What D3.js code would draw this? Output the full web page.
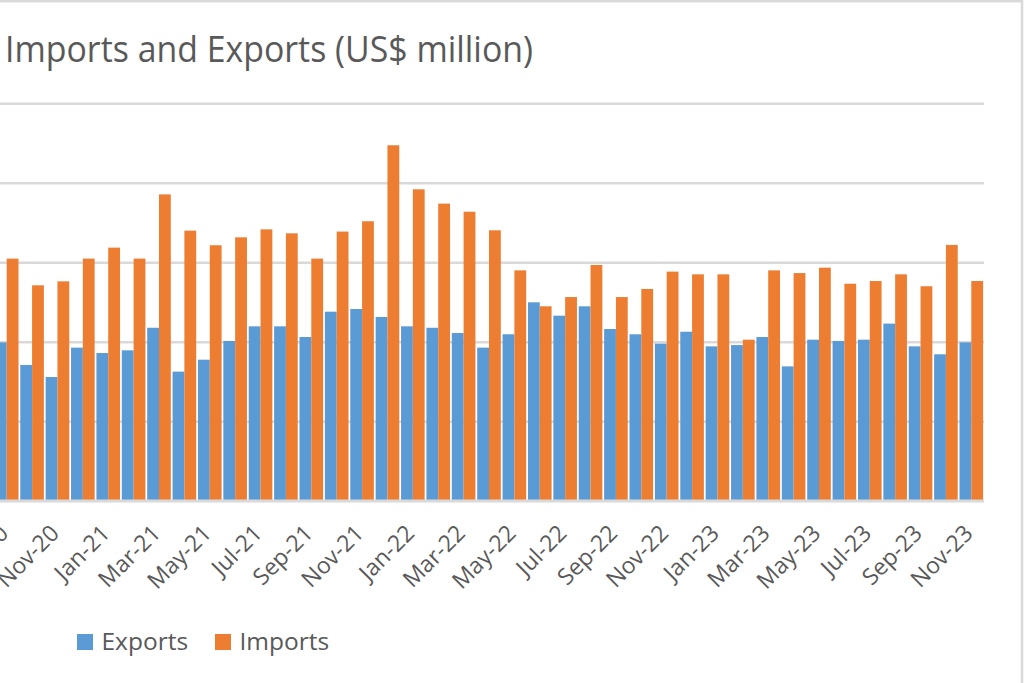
<!DOCTYPE html>
<html>
<head>
<meta charset="utf-8">
<script src="https://cdn.jsdelivr.net/npm/d3@7"></script>
<style>
  html, body { margin: 0; padding: 0; background: #fff; overflow: hidden; }
  svg { display: block; font-family: "Open Sans", sans-serif; }
</style>
</head>
<body>
<div class="chart"></div>
<script>
// monthly values, Sep-20 .. Nov-23 (US$ million)
const months = ["Sep-20", "Oct-20", "Nov-20", "Dec-20",
    "Jan-21", "Feb-21", "Mar-21", "Apr-21", "May-21", "Jun-21", "Jul-21", "Aug-21", "Sep-21", "Oct-21", "Nov-21", "Dec-21",
    "Jan-22", "Feb-22", "Mar-22", "Apr-22", "May-22", "Jun-22", "Jul-22", "Aug-22", "Sep-22", "Oct-22", "Nov-22", "Dec-22",
    "Jan-23", "Feb-23", "Mar-23", "Apr-23", "May-23", "Jun-23", "Jul-23", "Aug-23", "Sep-23", "Oct-23", "Nov-23"];

const exportsData = [996, 854, 778, 963,
    929, 946, 1088, 812, 887, 1005, 1097, 1097, 1030, 1189, 1206, 1156,
    1097, 1088, 1055, 963, 1047, 1248, 1164, 1223, 1080, 1047, 988, 1063,
    971, 979, 1030, 845, 1013, 1005, 1013, 1114, 971, 921, 996];

const importsData = [1523, 1355, 1380, 1523,
    1592, 1523, 1927, 1699, 1607, 1657, 1707, 1682, 1523, 1693, 1758, 2236,
    1959, 1869, 1818, 1701, 1449, 1223, 1281, 1483, 1281, 1332, 1441, 1424,
    1424, 1013, 1449, 1432, 1466, 1365, 1382, 1424, 1349, 1609, 1382];

const seriesNames = ["Exports", "Imports"];
const yTicks = [0, 500, 1000, 1500, 2000, 2500];

const colors = { Exports: "#5B9BD5", Imports: "#ED7D31" };
const textColor = "#595959";
const gridColor = "#d9d9d9";

const width = 1024, height = 683;

const svg = d3.select("div.chart")
    .append("svg")
    .attr("width", width)
    .attr("height", height);

// chart area border (left/bottom edges fall outside the view)
svg.append("rect")
    .attr("x", -20).attr("y", 1.2)
    .attr("width", 1042).attr("height", 720)
    .attr("fill", "none")
    .attr("stroke", gridColor)
    .attr("stroke-width", 2.5);

// title
svg.append("text")
    .attr("x", 5)
    .attr("y", 62)
    .attr("fill", textColor)
    .attr("textLength", 528)
    .attr("lengthAdjust", "spacingAndGlyphs")
    .style("font-size", "37px")
    .text("Imports and Exports (US$ million)");

const plot = { left: -6, right: 984, top: 103.3, bottom: 500.7 };

const x = d3.scaleBand()
    .domain(months)
    .range([plot.left, plot.right])
    .paddingInner(0.07)
    .paddingOuter(0.035);

const xSub = d3.scaleBand()
    .domain(seriesNames)
    .range([0, x.bandwidth()]);

const y = d3.scaleLinear()
    .domain([0, 2500])
    .range([plot.bottom, plot.top]);

// gridlines
const yAxis = d3.axisLeft(y)
    .tickValues(yTicks)
    .tickSize(plot.right + 10)
    .tickFormat("");

svg.append("g")
    .attr("class", "grid")
    .attr("transform", "translate(" + plot.right + ",0)")
    .call(yAxis)
    .call(g => g.select(".domain").remove())
    .call(g => g.selectAll("line")
        .attr("stroke", gridColor)
        .attr("stroke-width", 2.5));

// bars
const rows = months.map((m, i) => ({ month: m, Exports: exportsData[i], Imports: importsData[i] }));

const groups = svg.selectAll("g.month")
    .data(rows)
    .enter()
    .append("g")
    .attr("class", "month")
    .attr("transform", d => "translate(" + x(d.month) + ",0)");

groups.selectAll("rect")
    .data(d => seriesNames.map(k => ({ key: k, value: d[k] })))
    .enter()
    .append("rect")
    .attr("x", d => xSub(d.key))
    .attr("width", xSub.bandwidth())
    .attr("y", d => y(d.value))
    .attr("height", d => y(0) - y(d.value))
    .attr("fill", d => colors[d.key]);

// baseline drawn on top of bars
svg.append("line")
    .attr("x1", plot.left - 10).attr("x2", plot.right)
    .attr("y1", y(0)).attr("y2", y(0))
    .attr("stroke", gridColor)
    .attr("stroke-width", 2.5);

// x labels, every second month, rotated
const xAxis = d3.axisBottom(x)
    .tickValues(months.filter((m, i) => i % 2 === 0))
    .tickSize(0);

svg.append("g")
    .attr("transform", "translate(0," + plot.bottom + ")")
    .call(xAxis)
    .call(g => g.select(".domain").remove())
    .call(g => g.selectAll("text")
        .attr("fill", textColor)
        .style("font-size", "23px")
        .style("font-family", "'Open Sans', sans-serif")
        .attr("text-anchor", "end")
        .attr("dy", 0)
        .attr("y", 0)
        .attr("transform", "translate(3,34) rotate(-45)"));

// legend
const legend = svg.append("g").attr("class", "legend");
const legendX = [77, 215];

seriesNames.forEach((name, i) => {
    legend.append("rect")
        .attr("x", legendX[i]).attr("y", 634)
        .attr("width", 16).attr("height", 16)
        .attr("fill", colors[name]);
    legend.append("text")
        .attr("x", legendX[i] + 24.5)
        .attr("y", 650)
        .attr("fill", textColor)
        .style("font-size", "24.5px")
        .text(name);
});
</script>
</body>
</html>
